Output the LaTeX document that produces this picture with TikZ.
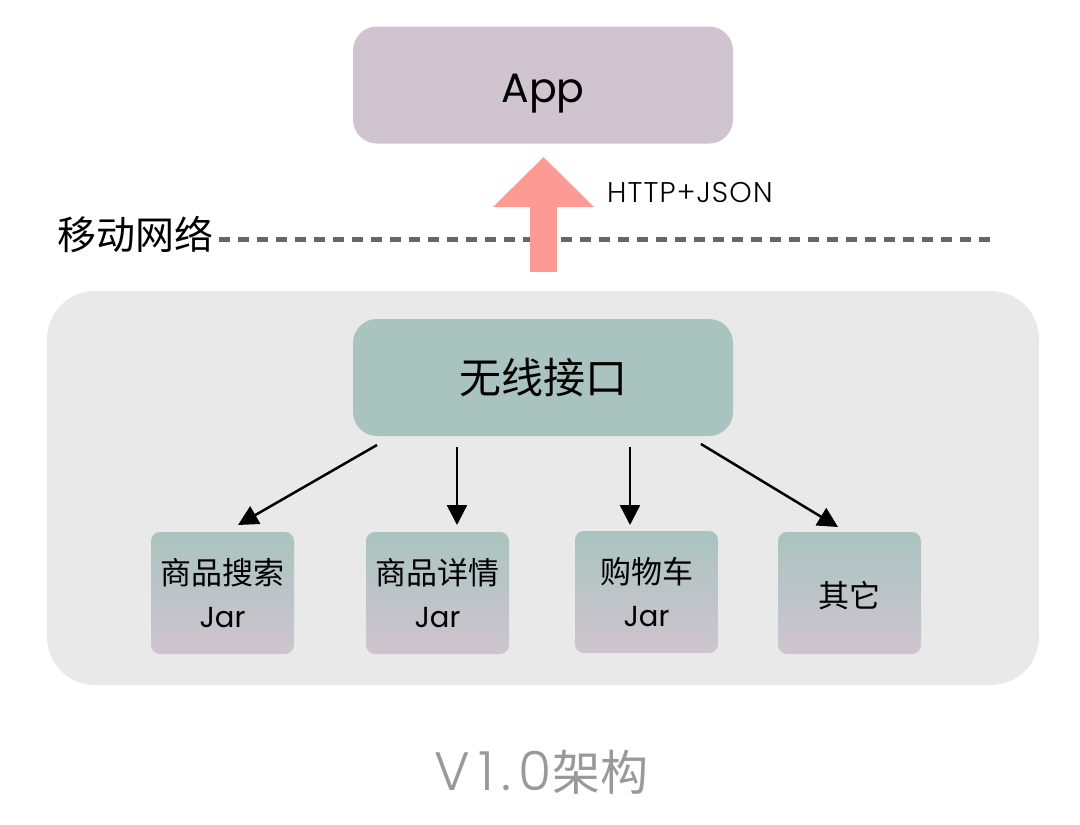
\documentclass[tikz,border=0pt]{standalone}
\usepackage{fontspec}
\usetikzlibrary{arrows.meta}
\setmainfont{Poppins}
\newfontfamily\cjk{Noto Sans CJK SC}
\newfontfamily\thinlatin[LetterSpace=4]{Poppins Light}
\newfontfamily\widelatin[LetterSpace=14]{Poppins Light}
\definecolor{panelgray}{HTML}{E9E9E9}
\definecolor{mauve}{HTML}{CFC4CF}
\definecolor{sage}{HTML}{A9C4BF}
\definecolor{salmon}{HTML}{FE9A94}
\definecolor{dashgray}{HTML}{666666}
\definecolor{captiongray}{HTML}{999999}
\tikzset{
  x=1pt,y=-1pt,
  bigbox/.style={minimum width=380pt,minimum height=117pt,rounded corners=24pt,inner sep=0pt},
  jarbox/.style={minimum width=143pt,minimum height=122pt,rounded corners=9pt,inner sep=0pt,align=center,
    top color=sage,bottom color=mauve,font=\fontsize{31}{42}\selectfont},
  flow/.style={draw=black,line width=2.5pt,-{Triangle[width=20pt,length=20pt]}},
  freelabel/.style={inner sep=0pt,text=black}
}
\begin{document}
\begin{tikzpicture}
\useasboundingbox (0,0) rectangle (1080,825);
\fill[white] (0,0) rectangle (1080,825);
\node[fill=panelgray,minimum width=992pt,minimum height=394pt,rounded corners=48pt,inner sep=0pt] (panel) at (543,488) {};
\node[bigbox,fill=mauve,font=\fontsize{41}{50}\selectfont] (app) at (543,85) {\raisebox{-9pt}[\height][\depth]{App}};
\node[bigbox,fill=sage,font=\cjk\fontsize{42}{50}\selectfont] (wire) at (543,377.5) {无线接口};
\node[jarbox] (b1) at (222.5,593) {{\cjk 商品搜索}\\[1pt]{\fontsize{29}{34}\selectfont Jar}};
\node[jarbox] (b2) at (437.5,593) {{\cjk 商品详情}\\[1pt]{\fontsize{29}{34}\selectfont Jar}};
\node[jarbox] (b3) at (646.5,592) {{\cjk 购物车}\\[1pt]{\fontsize{29}{34}\selectfont Jar}};
\node[jarbox] (b4) at (849.5,593) {\raisebox{-3pt}[\height][\depth]{\cjk 其它}};
\node[freelabel,font=\cjk\fontsize{39}{44}\selectfont,anchor=west] (net) at (57,235) {移动网络};
\coordinate (dashend) at (992,239);
\draw[dashgray,line width=5pt,dash pattern=on 11pt off 8pt] (net.east |- dashend) ++(6,0) coordinate (dashstart) -- (dashend);
\coordinate (upfrom) at (543.5,272);
\coordinate (upto) at (543.5,157);
\draw[salmon,line width=27pt,-{Triangle[width=98pt,length=50pt]}] (upfrom) -- (upto);
\node[freelabel,font=\thinlatin\fontsize{28.5}{32}\selectfont,anchor=west] (proto) at (607,193) {HTTP+JSON};
\coordinate (s1) at (377,445); \coordinate (e1) at (238,525);
\coordinate (s2) at (457,447); \coordinate (e2) at (457,525);
\coordinate (s3) at (630,447); \coordinate (e3) at (630,525);
\coordinate (s4) at (701,444); \coordinate (e4) at (838,527);
\draw[flow] (s1) -- (e1);
\draw[flow] (s2) -- (e2);
\draw[flow] (s3) -- (e3);
\draw[flow] (s4) -- (e4);
\node[freelabel,text=captiongray,font=\fontsize{48}{54}\selectfont] (cap) at (541.5,772) {{\widelatin\fontsize{54}{54}\selectfont V1.0}{\cjk 架构}};
\end{tikzpicture}
\end{document}
